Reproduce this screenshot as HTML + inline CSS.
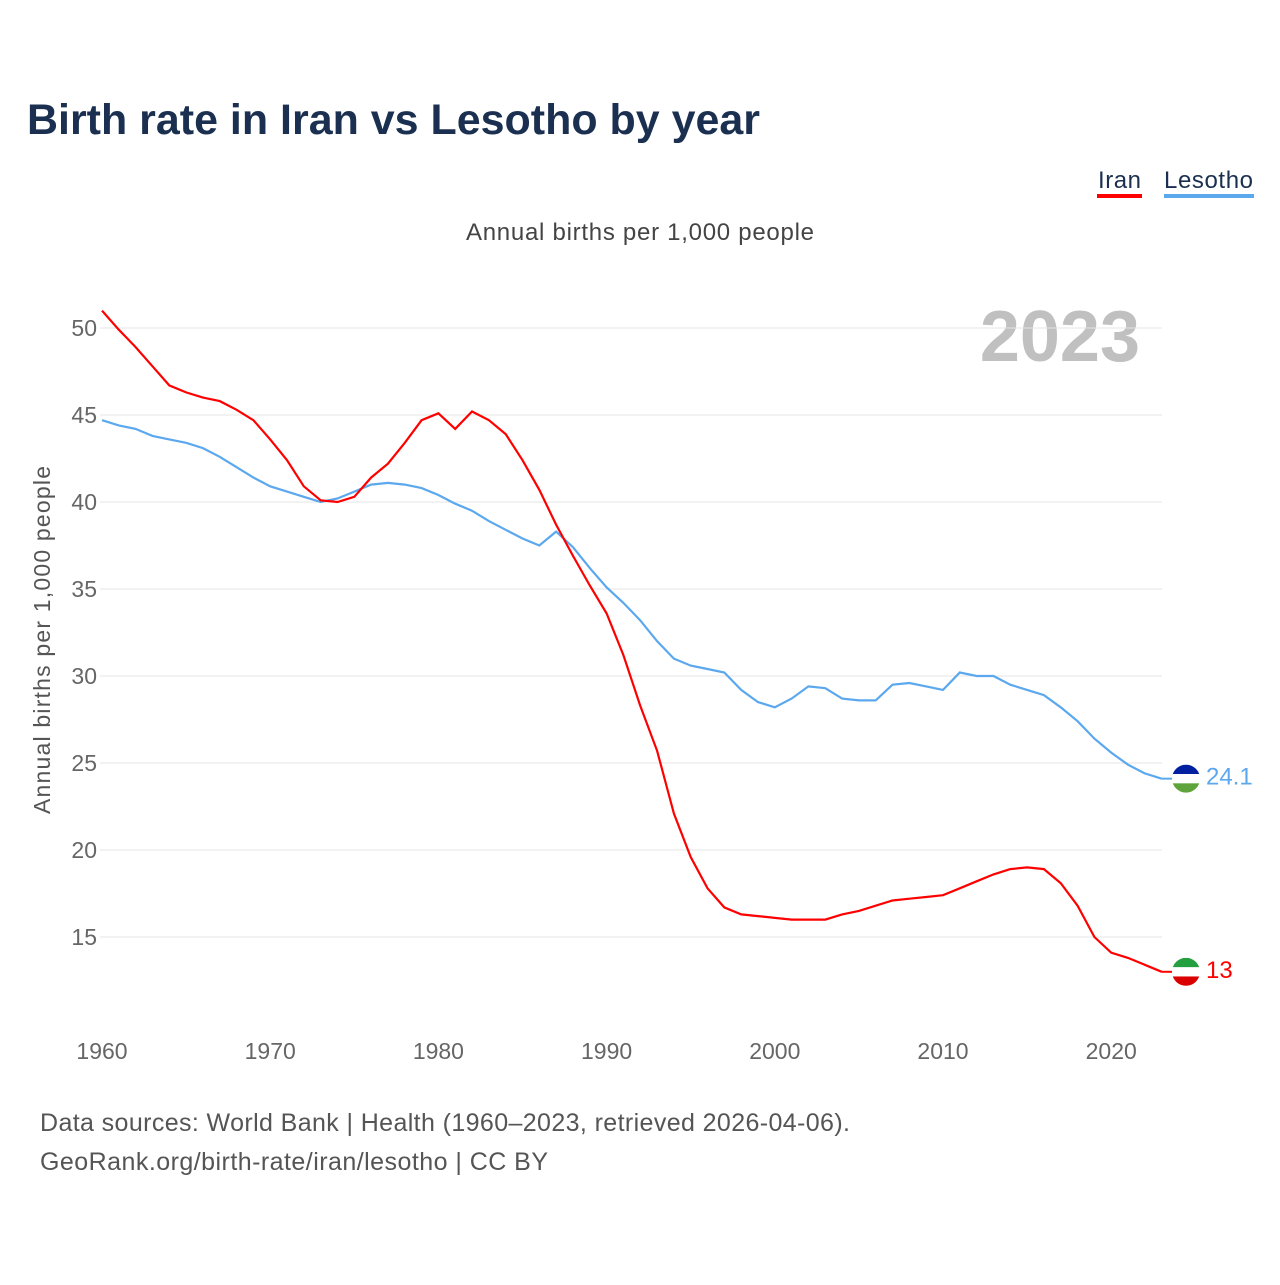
<!DOCTYPE html>
<html><head><meta charset="utf-8"><style>
body{margin:0;background:#fff;font-family:"Liberation Sans",sans-serif}
</style></head><body>
<svg width="1280" height="1280" viewBox="0 0 1280 1280" xmlns="http://www.w3.org/2000/svg">
<text x="27" y="134" font-size="43" font-weight="bold" fill="#1b3050" textLength="733" lengthAdjust="spacingAndGlyphs">Birth rate in Iran vs Lesotho by year</text>
<g>
<text x="1098" y="188" font-size="24" fill="#1b3050" textLength="43">Iran</text>
<rect x="1097" y="194" width="45" height="4" fill="#ff0000"/>
<text x="1164" y="188" font-size="24" fill="#1b3050" textLength="89">Lesotho</text>
<rect x="1164" y="194" width="90" height="4" fill="#5ba8ee"/>
</g>
<text x="640" y="240" font-size="24" fill="#444" text-anchor="middle" textLength="348">Annual births per 1,000 people</text>
<text x="1140" y="361" font-size="72" font-weight="bold" fill="#c0c0c0" text-anchor="end">2023</text>
<text transform="translate(50,640) rotate(-90)" font-size="23" fill="#555" text-anchor="middle" textLength="348">Annual births per 1,000 people</text>
<g id="grid"></g><g id="lines"></g>
<text x="40" y="1131" font-size="25" fill="#555" textLength="810">Data sources: World Bank | Health (1960–2023, retrieved 2026-04-06).</text>
<text x="40" y="1170" font-size="25" fill="#555" textLength="508">GeoRank.org/birth-rate/iran/lesotho | CC BY</text>
</svg>
<script>
const years=[];for(let y=1960;y<=2023;y++)years.push(y);
const yTicks=[15,20,25,30,35,40,45,50];
const xTicks=[1960,1970,1980,1990,2000,2010,2020];
const iran=[51.0,49.9,48.9,47.8,46.7,46.3,46.0,45.8,45.3,44.7,43.6,42.4,40.9,40.1,40.0,40.3,41.4,42.2,43.4,44.7,45.1,44.2,45.2,44.7,43.9,42.4,40.7,38.7,36.9,35.2,33.6,31.2,28.3,25.7,22.1,19.6,17.8,16.7,16.3,16.2,16.1,16.0,16.0,16.0,16.3,16.5,16.8,17.1,17.2,17.3,17.4,17.8,18.2,18.6,18.9,19.0,18.9,18.1,16.8,15.0,14.1,13.8,13.4,13.0];
const lesotho=[44.7,44.4,44.2,43.8,43.6,43.4,43.1,42.6,42.0,41.4,40.9,40.6,40.3,40.0,40.2,40.6,41.0,41.1,41.0,40.8,40.4,39.9,39.5,38.9,38.4,37.9,37.5,38.3,37.4,36.2,35.1,34.2,33.2,32.0,31.0,30.6,30.4,30.2,29.2,28.5,28.2,28.7,29.4,29.3,28.7,28.6,28.6,29.5,29.6,29.4,29.2,30.2,30.0,30.0,29.5,29.2,28.9,28.2,27.4,26.4,25.6,24.9,24.4,24.1];
const X=y=>102+(y-1960)*16.82, Y=v=>328+(50-v)*17.4;
const NS="http://www.w3.org/2000/svg";
const grid=document.getElementById('grid'), lines=document.getElementById('lines');
function mk(tag,a,p){const e=document.createElementNS(NS,tag);for(const k in a)e.setAttribute(k,a[k]);p.appendChild(e);return e;}
yTicks.forEach(v=>{
 const l=mk('line',{x1:100,x2:1162,y1:Y(v),y2:Y(v),stroke:'#e4e4e4','stroke-width':1},grid);
 
 
 const t=mk('text',{x:97,y:Y(v)+8,'font-size':23,fill:'#666','text-anchor':'end'},grid);t.textContent=v;
 
 
});
xTicks.forEach(y=>{
 const t=mk('text',{x:X(y),y:1059,'font-size':23,fill:'#666','text-anchor':'middle'},grid);t.textContent=y;
 
 
});
function series(d,c,name){
 const p=mk('path',{d:d.map((v,i)=>(i?'L':'M')+X(years[i]).toFixed(1)+','+Y(v).toFixed(1)).join(''),fill:'none',stroke:c,'stroke-width':2.2},lines);
 
 
 const last=d[d.length-1], lx=X(2023), ly=Y(last);
 mk('line',{x1:lx,x2:1172,y1:ly,y2:ly,stroke:c,'stroke-width':2},lines);
 const g=mk('g',{},lines);
 
 
 return {last,ly,g};
}
function flag(g,cy,cols){
 const cid='c'+Math.round(cy);
 const cp=mk('clipPath',{id:cid},g);mk('circle',{cx:1186,cy:cy,r:14},cp);
 const h=28/3;
 cols.forEach((c,i)=>mk('rect',{x:1172,y:cy-14+i*h,width:28,height:h+0.5,fill:c,'clip-path':'url(#'+cid+')'},g));
}
const s1=series(lesotho,'#5ba8ee','lesotho');
flag(s1.g,s1.ly,['#00209f','#ffffff','#5ea43a']);
const s2=series(iran,'#ff0000','iran');
flag(s2.g,s2.ly,['#239f40','#ffffff','#da0000']);
[[s1,'#5ba8ee','lesotho'],[s2,'#ff0000','iran']].forEach(([s,c,n])=>{
 const t=mk('text',{x:1206,y:s.ly+6,'font-size':24,fill:c},lines);t.textContent=s.last;
 
 
});
</script>
</body></html>
